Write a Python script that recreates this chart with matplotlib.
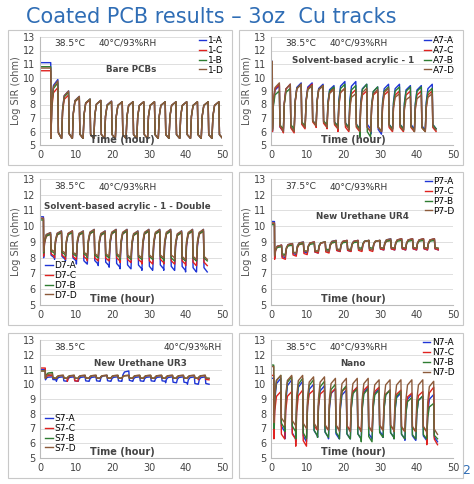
import matplotlib
matplotlib.use("Agg")
import matplotlib.pyplot as plt
import numpy as np

colors = {"A": "#1f35d6", "C": "#e0221f", "B": "#2e7d32", "D": "#8c5a3a"}

# ---- panel 1: Bare PCBs (start values, per-cycle peaks, troughs)
bare_start = {"A": 11.1, "C": 10.5, "B": 10.8, "D": 10.7}
bare_peaks = {
    "A": [9.85, 9.0, 8.6, 8.4, 8.3, 8.25, 8.2, 8.2, 8.2, 8.2, 8.2, 8.2, 8.2, 8.2, 8.2, 8.2],
    "C": [9.25, 8.7, 8.5, 8.35, 8.3, 8.2, 8.2, 8.2, 8.2, 8.2, 8.2, 8.2, 8.2, 8.2, 8.2, 8.2],
    "B": [9.6, 8.9, 8.55, 8.4, 8.3, 8.2, 8.2, 8.2, 8.2, 8.2, 8.2, 8.2, 8.2, 8.2, 8.2, 8.2],
    "D": [9.75, 9.0, 8.6, 8.4, 8.3, 8.25, 8.2, 8.2, 8.2, 8.2, 8.2, 8.2, 8.2, 8.2, 8.2, 8.2],
}
bare_troughs = {k: [5.5] * 16 for k in "ACBD"}

# ---- panel 2: Solvent-based acrylic - 1
a7_start = {"A": 11.2, "C": 11.0, "B": 11.1, "D": 11.2}
a7_peaks = {
    "A": [9.4, 9.5, 9.6, 9.6, 9.5, 9.4, 9.7, 9.7, 9.5, 9.3, 9.5, 9.5, 9.4, 9.4, 9.5],
    "C": [9.5, 9.5, 9.5, 9.5, 9.4, 9.2, 9.2, 9.1, 9.0, 9.0, 9.0, 9.0, 9.0, 9.0, 9.0],
    "B": [9.0, 9.2, 9.5, 9.4, 9.4, 9.3, 9.5, 9.4, 9.5, 9.3, 9.3, 9.3, 9.3, 9.3, 9.2],
    "D": [9.6, 9.5, 9.5, 9.4, 9.4, 9.1, 9.2, 8.8, 9.2, 9.1, 9.2, 8.8, 8.6, 8.7, 8.8],
}
a7_troughs = {
    "A": [6.0, 6.0, 6.3, 6.5, 6.4, 6.4, 6.3, 6.2, 6.2, 5.8, 6.2, 6.2, 6.2, 6.1, 6.2],
    "C": [6.0, 5.9, 6.2, 6.4, 6.3, 6.2, 6.0, 6.0, 6.0, 6.0, 6.0, 6.0, 6.0, 6.0, 6.0],
    "B": [6.2, 6.2, 6.4, 6.5, 6.5, 6.4, 6.3, 6.2, 5.6, 6.0, 6.2, 6.2, 6.1, 6.0, 6.2],
    "D": [6.1, 6.0, 6.3, 6.5, 6.4, 6.3, 6.2, 6.1, 6.0, 6.0, 6.1, 6.1, 6.1, 6.0, 6.1],
}

# ---- panel 3: Solvent-based acrylic - 1 - Double
d7_start = {"A": 10.6, "C": 10.5, "B": 10.4, "D": 10.5}
d7_peaks = {
    "A": [9.6, 9.7, 9.7, 9.7, 9.8, 9.7, 9.8, 9.8, 9.7, 9.8, 9.8, 9.8, 9.7, 9.8, 9.8],
    "C": [9.5, 9.6, 9.7, 9.6, 9.7, 9.6, 9.7, 9.7, 9.6, 9.7, 9.7, 9.7, 9.6, 9.7, 9.7],
    "B": [9.5, 9.6, 9.6, 9.6, 9.7, 9.6, 9.7, 9.7, 9.6, 9.7, 9.7, 9.7, 9.6, 9.7, 9.7],
    "D": [9.6, 9.7, 9.7, 9.7, 9.8, 9.7, 9.8, 9.8, 9.7, 9.8, 9.8, 9.8, 9.7, 9.8, 9.8],
}
d7_troughs = {
    "A": [8.0, 7.9, 7.8, 7.6, 7.6, 7.5, 7.4, 7.3, 7.3, 7.2, 7.3, 7.2, 7.2, 7.1, 7.1],
    "C": [8.1, 8.0, 7.9, 7.9, 7.8, 7.8, 7.8, 7.7, 7.7, 7.6, 7.7, 7.6, 7.6, 7.5, 7.5],
    "B": [8.3, 8.2, 8.1, 8.1, 8.0, 8.0, 8.0, 7.9, 7.9, 7.9, 7.9, 7.8, 7.8, 7.8, 7.8],
    "D": [8.4, 8.3, 8.2, 8.2, 8.1, 8.1, 8.1, 8.0, 8.0, 8.0, 8.0, 8.0, 7.9, 7.9, 7.9],
}

# ---- panel 4: New Urethane UR4
p7_start = {"A": 10.3, "C": 10.2, "B": 10.1, "D": 10.2}
p7_peaks = {
    "A": [8.8, 8.9, 9.0, 9.0, 9.0, 9.1, 9.1, 9.1, 9.1, 9.1, 9.2, 9.2, 9.2, 9.2, 9.2],
    "C": [8.8, 8.9, 8.9, 9.0, 9.0, 9.0, 9.1, 9.1, 9.1, 9.1, 9.1, 9.2, 9.2, 9.2, 9.2],
    "B": [8.7, 8.8, 8.9, 8.9, 9.0, 9.0, 9.0, 9.0, 9.1, 9.1, 9.1, 9.1, 9.1, 9.1, 9.1],
    "D": [8.8, 8.9, 9.0, 9.0, 9.0, 9.1, 9.1, 9.1, 9.1, 9.1, 9.2, 9.2, 9.2, 9.2, 9.2],
}
p7_troughs = {
    "A": [8.0, 8.2, 8.3, 8.3, 8.4, 8.4, 8.4, 8.5, 8.5, 8.5, 8.5, 8.5, 8.5, 8.5, 8.5],
    "C": [7.9, 8.1, 8.2, 8.3, 8.3, 8.4, 8.4, 8.4, 8.4, 8.5, 8.5, 8.5, 8.5, 8.5, 8.5],
    "B": [8.2, 8.3, 8.4, 8.4, 8.5, 8.5, 8.5, 8.6, 8.6, 8.6, 8.6, 8.6, 8.6, 8.6, 8.6],
    "D": [8.1, 8.3, 8.4, 8.4, 8.4, 8.5, 8.5, 8.5, 8.5, 8.6, 8.6, 8.6, 8.6, 8.6, 8.6],
}

# ---- panel 5: New Urethane UR3
s7_start = {"A": 11.0, "C": 11.1, "B": 10.9, "D": 10.9}
s7_peaks = {
    "A": [10.5, 10.5, 10.5, 10.5, 10.5, 10.6, 10.5, 10.9, 10.5, 10.5, 10.5, 10.5, 10.5, 10.5, 10.5],
    "C": [10.6, 10.6, 10.6, 10.6, 10.6, 10.6, 10.6, 10.6, 10.6, 10.6, 10.6, 10.6, 10.6, 10.6, 10.6],
    "B": [10.8, 10.6, 10.6, 10.6, 10.6, 10.6, 10.6, 10.6, 10.6, 10.6, 10.6, 10.6, 10.6, 10.6, 10.6],
    "D": [10.7, 10.6, 10.6, 10.6, 10.6, 10.6, 10.6, 10.6, 10.6, 10.6, 10.6, 10.6, 10.6, 10.6, 10.6],
}
s7_troughs = {
    "A": [10.3, 10.2, 10.2, 10.2, 10.2, 10.2, 10.2, 10.2, 10.2, 10.2, 10.2, 10.1, 10.1, 10.0, 10.0],
    "C": [10.4, 10.4, 10.2, 10.4, 10.4, 10.4, 10.4, 10.4, 10.4, 10.4, 10.4, 10.4, 10.4, 10.4, 10.3],
    "B": [10.4, 10.4, 10.4, 10.4, 10.4, 10.4, 10.4, 10.4, 10.4, 10.4, 10.4, 10.4, 10.4, 10.4, 10.4],
    "D": [10.4, 10.4, 10.4, 10.4, 10.4, 10.4, 10.4, 10.4, 10.4, 10.4, 10.4, 10.4, 10.4, 10.4, 10.4],
}

# ---- panel 6: Nano
n7_start = {"A": 10.4, "C": 10.6, "B": 11.3, "D": 11.2}
n7_peaks = {
    "A": [10.4, 10.3, 10.2, 10.0, 9.9, 9.7, 9.6, 9.8, 9.8, 9.7, 9.6, 9.4, 9.3, 9.2, 9.3],
    "C": [9.5, 9.5, 9.6, 9.6, 9.6, 9.7, 9.8, 9.8, 9.9, 9.8, 9.6, 9.6, 9.4, 9.5, 9.8],
    "B": [10.6, 10.5, 10.4, 10.3, 10.2, 10.0, 9.9, 9.7, 9.7, 9.6, 9.6, 9.5, 9.1, 9.2, 8.7],
    "D": [10.6, 10.6, 10.6, 10.5, 10.5, 10.4, 10.4, 10.4, 10.4, 10.3, 10.3, 10.3, 10.3, 10.3, 10.2],
}
n7_troughs = {
    "A": [6.8, 6.3, 6.1, 6.5, 6.4, 6.3, 6.3, 6.3, 6.3, 6.5, 6.4, 6.3, 6.2, 6.2, 6.1],
    "C": [6.3, 6.3, 5.8, 6.9, 6.9, 6.9, 6.9, 6.9, 6.8, 6.9, 6.9, 6.8, 6.8, 6.8, 5.9],
    "B": [7.0, 6.8, 6.3, 6.5, 6.4, 6.4, 6.3, 6.3, 6.1, 6.4, 6.4, 6.3, 6.3, 6.3, 6.3],
    "D": [7.4, 7.2, 7.0, 7.0, 6.9, 6.9, 6.8, 6.8, 6.8, 6.9, 6.9, 6.8, 6.8, 6.8, 6.6],
}

panels = [
    dict(title="Bare PCBs", temp="38.5°C", start=bare_start, peaks=bare_peaks, troughs=bare_troughs,
         names=["1-A", "1-C", "1-B", "1-D"], period=2.95, t_first=3.0, leg="upper right", ylabel=True),
    dict(title="Solvent-based acrylic - 1", temp="38.5°C", start=a7_start, peaks=a7_peaks, troughs=a7_troughs,
         names=["A7-A", "A7-C", "A7-B", "A7-D"], period=3.0, t_first=0.4, leg="upper right", ylabel=True),
    dict(title="Solvent-based acrylic - 1 - Double", temp="38.5°C", start=d7_start, peaks=d7_peaks, troughs=d7_troughs,
         names=["D7-A", "D7-C", "D7-B", "D7-D"], period=3.0, t_first=1.0, leg="lower left", ylabel=True),
    dict(title="New Urethane UR4", temp="37.5°C", start=p7_start, peaks=p7_peaks, troughs=p7_troughs,
         names=["P7-A", "P7-C", "P7-B", "P7-D"], period=3.0, t_first=1.0, leg="upper right", ylabel=True),
    dict(title="New Urethane UR3", temp="38.5°C", start=s7_start, peaks=s7_peaks, troughs=s7_troughs,
         names=["S7-A", "S7-C", "S7-B", "S7-D"], period=3.0, t_first=1.5, leg="lower left", ylabel=False),
    dict(title="Nano", temp="38.5°C", start=n7_start, peaks=n7_peaks, troughs=n7_troughs,
         names=["N7-A", "N7-C", "N7-B", "N7-D"], period=3.0, t_first=0.8, leg="upper right", ylabel=False),
]


def series(start, peaks, troughs, t_first, period):
    t = [0.0, t_first - 0.05]
    y = [start, start]
    for k, (p, q) in enumerate(zip(peaks, troughs)):
        t0 = t_first + k * period
        d = p - q
        t += [t0, t0 + 0.25, t0 + 0.7, t0 + 1.9, t0 + 2.05, t0 + period - 0.05]
        y += [q, q + 0.6 * d, p - 0.1 * d, p, q + 0.1 * d, q]
    return t, y


fig = plt.figure(figsize=(4.74, 4.84), dpi=100)
fig.text(0.055, 0.965, "Coated PCB results – 3oz  Cu tracks", color="#2f6db5", fontsize=15, va="center")
fig.text(0.975, 0.02, "2", color="#2f6db5", fontsize=9)

boxes = [(8, 30, 232, 165), (239, 30, 463, 165), (8, 172, 232, 325), (239, 172, 463, 325),
         (8, 333, 232, 478), (239, 333, 463, 478)]
W, H = 474, 484
for i, (pan, (x0, y0, x1, y1)) in enumerate(zip(panels, boxes)):
    fig.patches.append(plt.Rectangle((x0 / W, 1 - y1 / H), (x1 - x0) / W, (y1 - y0) / H,
                                     transform=fig.transFigure, fill=False, ec="#c8c8c8", lw=0.8))
    ax = fig.add_axes([(x0 + 32) / W, 1 - (y1 - 20) / H, (x1 - x0 - 42) / W, (y1 - y0 - 27) / H])
    for key, name in zip("ACBD", pan["names"]):
        t, y = series(pan["start"][key], pan["peaks"][key], pan["troughs"][key], pan["t_first"], pan["period"])
        ax.plot(t, y, color=colors[key], lw=1.0, label=name)
    ax.set_xlim(0, 50)
    ax.set_ylim(5, 13)
    ax.set_xticks(range(0, 51, 10))
    ax.set_yticks(range(5, 14))
    ax.tick_params(labelsize=7, colors="#444444", length=0)
    ax.grid(axis="y", color="#d9d9d9", lw=0.6)
    for s in ax.spines.values():
        s.set_visible(False)
    ax.spines["bottom"].set_visible(True)
    ax.spines["bottom"].set_color("#bbbbbb")
    ax.spines["left"].set_visible(True)
    ax.spines["left"].set_color("#bbbbbb")
    if pan["ylabel"]:
        ax.set_ylabel("Log SIR (ohm)", fontsize=7, color="#555555", labelpad=1)
    ax.text(0.08, 0.94, pan["temp"], transform=ax.transAxes, fontsize=6.5, color="#333333", va="center")
    ax.text(0.32 if i != 4 else 0.68, 0.94, "40°C/93%RH", transform=ax.transAxes, fontsize=6.5,
            color="#333333", va="center")
    tx = {0: (0.5, 0.7), 1: (0.45, 0.78), 2: (0.02, 0.78), 3: (0.5, 0.7), 4: (0.55, 0.8), 5: (0.45, 0.8)}[i]
    ax.text(tx[0], tx[1], pan["title"], transform=ax.transAxes, fontsize=6.3, fontweight="bold",
            color="#444444", ha="center" if i != 2 else "left", va="center")
    ax.text(0.45, 0.05, "Time (hour)", transform=ax.transAxes, fontsize=7, fontweight="bold",
            color="#444444", ha="center", va="center")
    if pan["leg"] == "upper right":
        ax.legend(loc="upper right", bbox_to_anchor=(1.04, 1.06), fontsize=6.5, frameon=False,
                  handlelength=0.8, handletextpad=0.2, labelspacing=0.1, borderpad=0.1)
    else:
        ax.legend(loc="lower left", bbox_to_anchor=(0.0, 0.0), fontsize=6.5, frameon=False,
                  handlelength=0.8, handletextpad=0.2, labelspacing=0.1, borderpad=0.1)

fig.savefig("out.png", dpi=100)
